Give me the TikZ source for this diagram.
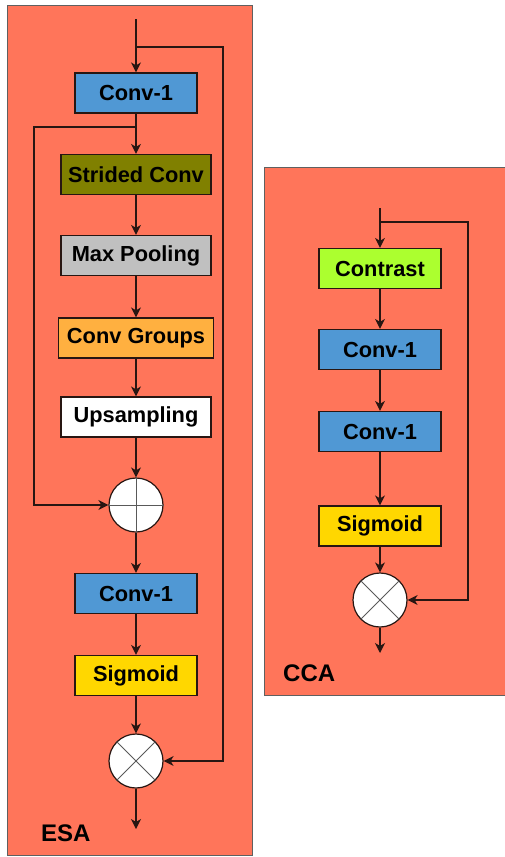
\documentclass[tikz,border=0pt]{standalone}
\usepackage{fontspec}
\setmainfont{Liberation Sans}
\usetikzlibrary{arrows.meta,positioning}
\definecolor{panelred}{RGB}{255,117,90}
\definecolor{convblue}{RGB}{80,152,212}
\definecolor{strolive}{RGB}{128,128,0}
\definecolor{poolgray}{RGB}{192,192,192}
\definecolor{grporange}{RGB}{255,176,64}
\definecolor{contgreen}{RGB}{172,255,47}
\definecolor{siggold}{RGB}{255,215,0}
\definecolor{linedark}{RGB}{40,22,18}

\begin{document}
\begin{tikzpicture}[
  x=1pt, y=-1pt,
  font=\fontsize{21.8}{24}\selectfont\bfseries, % Blockschrift
  layer/.style={draw=linedark, line width=1.2pt, minimum height=40pt, inner sep=0pt},
  op/.style={circle, draw=linedark, fill=white, line width=1.2pt, minimum size=54pt, inner sep=0pt},
  flow/.style={draw=linedark, line width=1.4pt, -{Stealth[length=10pt,width=10pt,inset=3pt]}},
  cross/.style={draw=black!65, line width=1pt},
  panel/.style={fill=panelred, draw=gray!75!black, line width=1pt},
  tag/.style={anchor=west, inner sep=0pt, font=\fontsize{24}{26}\selectfont\bfseries}
  ]
\useasboundingbox (0,0) rectangle (505,857);
% Rahmen
\draw[panel] (7,5) rectangle (252,855);
\draw[panel] (264,167) rectangle (506,695);

% ESA
\node[layer, fill=convblue,  minimum width=122pt] (econv)  at (136,93)    {Conv-1};
\node[layer, fill=strolive,  minimum width=150pt] (estride) at (136,174.5) {Strided Conv};
\node[layer, fill=poolgray,  minimum width=150pt] (epool)  at (136,255.5) {Max Pooling};
\node[layer, fill=grporange, minimum width=155pt] (egroup) at (136,338)   {Conv Groups};
\node[layer, fill=white,     minimum width=150pt] (eup)    at (136,417)   {Upsampling};
\node[op] (eadd) at (136,505) {};
\node[layer, fill=convblue,  minimum width=122pt] (econvb) at (136,593.5) {Conv-1};
\node[layer, fill=siggold,   minimum width=122pt] (esig)   at (136,675.5) {Sigmoid};
\node[op] (emul) at (136,761) {};
\node[tag] (esa) at (41,833) {ESA};
\draw[cross] (eadd.north)--(eadd.south) (eadd.west)--(eadd.east);
\draw[cross] (emul.north west)--(emul.south east) (emul.north east)--(emul.south west);
\coordinate (ein)    at (136,19);
\coordinate (ebr)    at (136,47);
\coordinate (ebrr)   at (223,47);
\coordinate (eskip)  at (136,127);
\coordinate (eskipl) at (34,127);
\coordinate (eout)   at (136,829);
\draw[flow] (ein)--(econv);
\draw[flow] (ebr)--(ebrr)|-(emul);
\draw[flow] (econv)--(estride);
\draw[flow] (eskip)--(eskipl)|-(eadd);
\draw[flow] (estride)--(epool);
\draw[flow] (epool)--(egroup);
\draw[flow] (egroup)--(eup);
\draw[flow] (eup)--(eadd);
\draw[flow] (eadd)--(econvb);
\draw[flow] (econvb)--(esig);
\draw[flow] (esig)--(emul);
\draw[flow] (emul)--(eout);

% CCA
\node[layer, fill=contgreen, minimum width=122pt] (ccont)  at (380,268.5) {Contrast};
\node[layer, fill=convblue,  minimum width=122pt] (cconv)  at (380,349.5) {Conv-1};
\node[layer, fill=convblue,  minimum width=122pt] (cconvb) at (380,431.5) {Conv-1};
\node[layer, fill=siggold,   minimum width=122pt] (csig)   at (380,526)   {Sigmoid};
\node[op] (cmul) at (380,600) {};
\node[tag] (cca) at (283,673) {CCA};
\draw[cross] (cmul.north west)--(cmul.south east) (cmul.north east)--(cmul.south west);
\coordinate (cin)  at (380,208);
\coordinate (cbr)  at (380,222);
\coordinate (cbrr) at (468,222);
\coordinate (cout) at (380,653);
\draw[flow] (cin)--(ccont);
\draw[flow] (cbr)--(cbrr)|-(cmul);
\draw[flow] (ccont)--(cconv);
\draw[flow] (cconv)--(cconvb);
\draw[flow] (cconvb)--(csig);
\draw[flow] (csig)--(cmul);
\draw[flow] (cmul)--(cout);

\end{tikzpicture}
\end{document}
